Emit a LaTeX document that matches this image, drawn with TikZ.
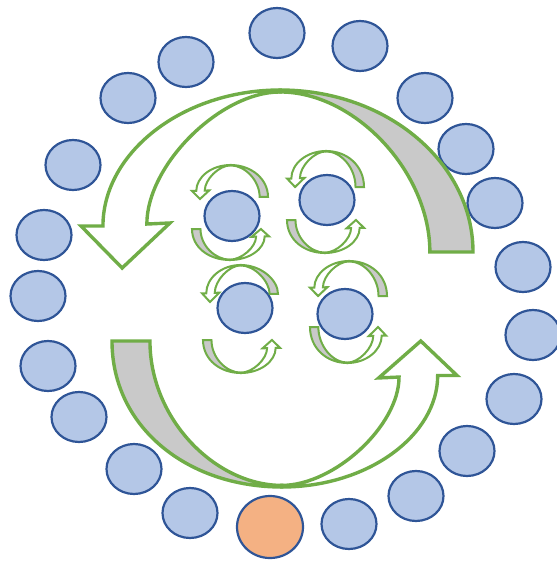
\documentclass[tikz,border=0pt]{standalone}
\usepackage{xcolor}
\usepackage{tikz}
\usetikzlibrary{shapes.geometric}

\definecolor{ringfill}{HTML}{B4C7E7}
\definecolor{ringline}{HTML}{2F5597}
\definecolor{hubfill}{HTML}{F4B183}
\definecolor{loopgreen}{HTML}{70AD47}
\definecolor{backgray}{HTML}{C9C9C9}

\begin{document}
\begin{tikzpicture}[
    x=1pt, y=-1pt,
    ring/.style={ellipse, draw=ringline, fill=ringfill, line width=2.2pt, minimum width=55pt, minimum height=50pt, inner sep=0pt},
    hub/.style={ring, fill=hubfill, minimum width=66pt, minimum height=62pt},
    band/.style={draw=loopgreen, line width=#1, line join=miter},
    band/.default=3.2pt,
    % curved arrow in a unit box: apex at top, head at left, gray back at right
    pics/bend/.style={code={
        \filldraw[band=\bendw, fill=backgray] (0.508,0) .. controls (0.781,0) and (1,0.41) .. (1,#1)
            -- (0.89,#1) .. controls (0.89,0.461) and (0.699,0.011) .. (0.508,0.011) -- cycle;
        \filldraw[band=\bendw, fill=white] (0.508,0) .. controls (0.258,0) and (0.056,0.354) .. (0.056,0.764)
            -- (0,0.764) -- (0.105,1) -- (0.227,0.747) -- (0.168,0.753)
            .. controls (0.168,0.421) and (0.355,0.011) .. (0.508,0.011) -- cycle;
    }},
]
\useasboundingbox (0,0) rectangle (557,563);
\def\bendw{3.4pt}

% Outer ring
\foreach \x/\y [count=\i] in {277/33, 360/46, 186/62, 425/98, 128/98, 466/149, 73/165, 495/203,
    44/235, 523/267, 38/296, 533/335, 48/366, 514/399, 79/417, 467/451, 134/469, 416/496,
    190/513, 349/524}
    \node[ring] (r\i) at (\x,\y) {};
\node[hub] (start) at (270,527) {};

% Big loop
\pic[shift={(81,90)}, xscale=392, yscale=178] (top) {bend=0.91};
\pic[shift={(457,487)}, xscale=-345, yscale=-146] (bottom) {bend=1};

% Inner nodes
\node[ring] (a) at (232,216) {};
\node[ring] (b) at (327,200) {};
\node[ring] (c) at (245,308) {};
\node[ring] (d) at (345,314) {};

% Small loops
\def\bendw{2pt}
\pic[shift={(192,165)}, xscale=76, yscale=34] (a1) {bend=0.94};
\pic[shift={(269,260)}, xscale=-77, yscale=-31] (a2) {bend=1};
\pic[shift={(287,151)}, xscale=77, yscale=36] (b1) {bend=1};
\pic[shift={(364,253)}, xscale=-77, yscale=-33] (b2) {bend=1};
\pic[shift={(202,265)}, xscale=76, yscale=37] (c1) {bend=0.78};
\pic[shift={(280,373)}, xscale=-77, yscale=-33] (c2) {bend=1};
\pic[shift={(310,261)}, xscale=77, yscale=35] (d1) {bend=1};
\pic[shift={(386,363)}, xscale=-76, yscale=-36] (d2) {bend=1};

\end{tikzpicture}
\end{document}
